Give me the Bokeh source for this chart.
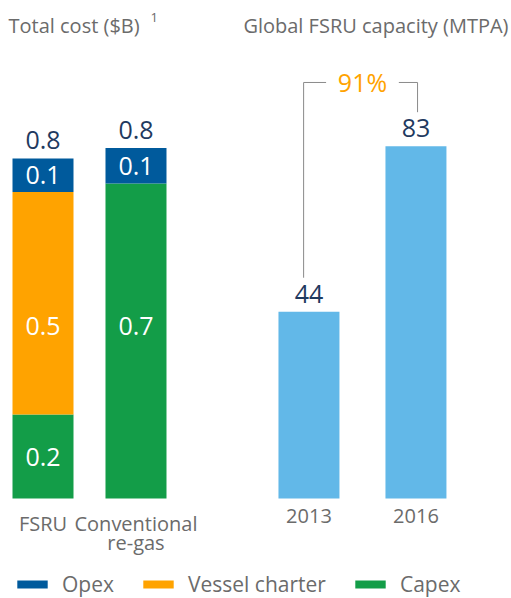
from bokeh.plotting import figure
from bokeh.models import Range1d, Label, Legend, LegendItem, ColumnDataSource
from bokeh.core.properties import value
from bokeh.embed import file_html
from bokeh.resources import INLINE

# ---- data ----
cost_categories = ["FSRU", "Conventional\nre-gas"]
capex = [0.20, 0.75]
vessel_charter = [0.53, 0.0]
opex = [0.08, 0.085]
capex_labels = ["0.2", "0.7"]
vessel_labels = ["0.5", ""]
opex_labels = ["0.1", "0.1"]
total_labels = ["0.8", "0.8"]

cap_years = ["2013", "2016"]
cap_values = [44, 83]
cap_labels = ["44", "83"]
growth_label = "91%"

# ---- styles ----
FONT = value("Open Sans")
C_OPEX = "#005A9C"
C_VESSEL = "#FFA300"
C_CAPEX = "#139D48"
C_CAP = "#62B8E8"
C_NAVY = "#1F3A5F"
C_GREY = "#6B6B6B"
C_LINE = "#8A8A8A"
VAL_SIZE = "25px"
CAT_SIZE = "20px"

W, H = 511, 598
p = figure(width=W, height=H, output_backend="svg", toolbar_location=None,
           x_range=Range1d(-0.457, 5.038), y_range=Range1d(-0.238, 1.186),
           x_axis_location=None, y_axis_location=None, min_border=0,
           outline_line_color=None)
p.extra_x_ranges = {"cap": Range1d(-2.883, 1.893)}
p.extra_y_ranges = {"cap": Range1d(-23.56, 117.31)}
p.xgrid.visible = False
p.ygrid.visible = False

# ---- cost stacked bars ----
xs_cost = list(range(len(cost_categories)))
src = ColumnDataSource(dict(x=xs_cost, capex=capex, vessel=vessel_charter, opex=opex))
rs = p.vbar_stack(["capex", "vessel", "opex"], x="x", width=0.656, source=src,
                  color=[C_CAPEX, C_VESSEL, C_OPEX], line_width=0)
r_capex, r_vessel, r_opex = rs

mid_level = 0.41
lab_x, lab_y, lab_t = [], [], []
for i in xs_cost:
    segs = [(0.0, capex[i], capex_labels[i]),
            (capex[i], vessel_charter[i], vessel_labels[i]),
            (capex[i] + vessel_charter[i], opex[i], opex_labels[i])]
    for bottom, h, t in segs:
        if not t:
            continue
        y = bottom + h / 2 if h < 0.3 else mid_level
        lab_x.append(i); lab_y.append(y); lab_t.append(t)
p.text(x=lab_x, y=lab_y, text=lab_t, text_font=FONT, text_font_size=VAL_SIZE,
       text_color="white", text_align="center", text_baseline="middle")

totals = [c + v + o for c, v, o in zip(capex, vessel_charter, opex)]
p.text(x=xs_cost, y=totals, text=total_labels, text_font=FONT, text_font_size=VAL_SIZE,
       text_color=C_NAVY, text_align="center", text_baseline="middle", y_offset=-18)

p.text(x=xs_cost, y=[0] * len(xs_cost), text=cost_categories, text_font=FONT,
       text_font_size=CAT_SIZE, text_color=C_GREY, text_align="center",
       text_baseline="top", y_offset=11, text_line_height=0.72)

# ---- capacity bars ----
xs_cap = list(range(len(cap_years)))
p.vbar(x=xs_cap, top=cap_values, width=0.57, color=C_CAP, line_width=0,
       x_range_name="cap", y_range_name="cap")
p.text(x=xs_cap, y=cap_values, text=cap_labels, text_font=FONT, text_font_size=VAL_SIZE,
       text_color=C_NAVY, text_align="center", text_baseline="middle", y_offset=-18,
       x_range_name="cap", y_range_name="cap")
p.text(x=xs_cap, y=[0] * len(xs_cap), text=cap_years, text_font=FONT,
       text_font_size=CAT_SIZE, text_color=C_GREY, text_align="center",
       text_baseline="top", y_offset=11, x_range_name="cap", y_range_name="cap")

# growth bracket
top = max(cap_values) + 15
gap = 8
xl, xr = xs_cap[0] - 0.05, xs_cap[1] + 0.015
xm = (xs_cap[0] + xs_cap[1]) / 2
hg = 0.34
p.multi_line(xs=[[xl, xl, xm - hg], [xm + hg, xr, xr]],
             ys=[[cap_values[0] + gap, top, top], [top, top, cap_values[1] + gap]],
             line_color=C_LINE, line_width=1, x_range_name="cap", y_range_name="cap")
p.text(x=[xm], y=[top], text=[growth_label], text_font=FONT, text_font_size=VAL_SIZE,
       text_color=C_VESSEL, text_align="center", text_baseline="middle",
       x_range_name="cap", y_range_name="cap")

# ---- titles ----
p.add_layout(Label(x=8, y=H - 25, x_units="screen", y_units="screen",
                   text="Total cost ($B)", text_font="Open Sans", text_font_size="20px",
                   text_color=C_GREY, text_baseline="middle"))
p.add_layout(Label(x=150, y=H - 17, x_units="screen", y_units="screen",
                   text="1", text_font="Open Sans", text_font_size="13px",
                   text_color=C_GREY, text_baseline="middle"))
p.add_layout(Label(x=508, y=H - 25, x_units="screen", y_units="screen",
                   text="Global FSRU capacity (MTPA)", text_font="Open Sans",
                   text_font_size="20px", text_color=C_GREY, text_baseline="middle",
                   text_align="right"))

# ---- legend ----
legend = Legend(items=[LegendItem(label="Opex", renderers=[r_opex]),
                       LegendItem(label="Vessel charter", renderers=[r_vessel]),
                       LegendItem(label="Capex", renderers=[r_capex])],
                orientation="horizontal", location=(13, 0),
                glyph_width=38, glyph_height=10, label_standoff=11, spacing=25,
                padding=0, margin=0, border_line_color=None, background_fill_alpha=0,
                label_text_font="Open Sans", label_text_font_size="21px",
                label_text_color=C_GREY)
p.add_layout(legend)

open("out.html", "w").write(file_html(p, INLINE))
